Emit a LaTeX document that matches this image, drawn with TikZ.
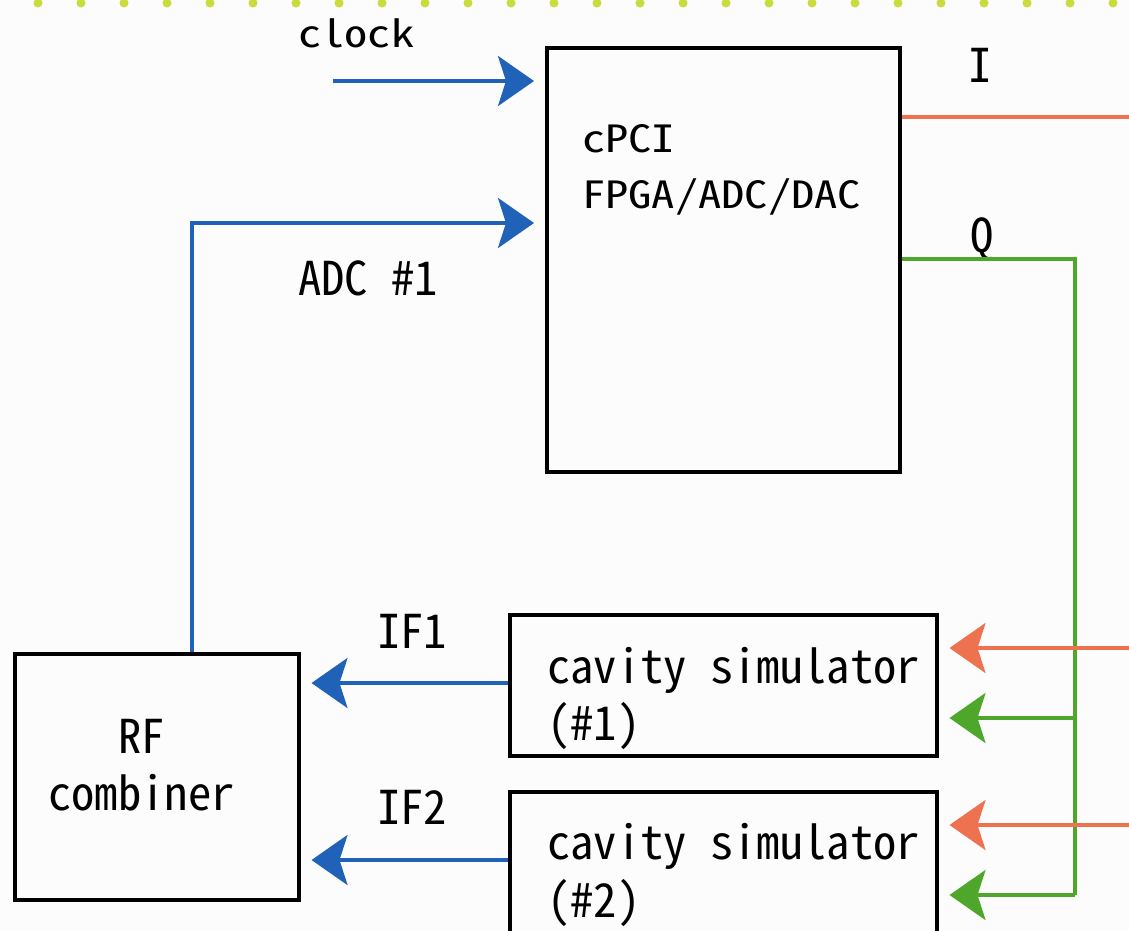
\documentclass[tikz,border=0pt]{standalone}
\usepackage{fontspec}
\usetikzlibrary{arrows.meta}
\newfontfamily\jpfont[RawFeature=+hwid]{Noto Sans CJK JP}
\newfontfamily\jpwide[RawFeature=+hwid,FakeStretch=1.24]{Noto Sans CJK JP}
\definecolor{cblue}{HTML}{1F62B8}
\definecolor{corange}{HTML}{EE7150}
\definecolor{cgreen}{HTML}{4EA72A}
\definecolor{cdot}{HTML}{C8DC3C}
\definecolor{cbg}{HTML}{FCFCFC}
\begin{document}
\begin{tikzpicture}[x=1pt,y=-1pt,
  box/.style={draw=black,line width=3.5pt,inner sep=0pt,anchor=north west},
  lbl/.style={anchor=base west,inner sep=0pt,font=\jpfont\fontsize{46.6}{56}\selectfont},
  wlbl/.style={anchor=base west,inner sep=0pt,font=\jpwide\fontsize{37.5}{56}\selectfont},
  sig/.style={line width=3.5pt},
  tipped/.style={sig,-{Stealth[length=36pt 0 0,width=50pt 0 0,inset=8pt]},shorten >=11pt}]
\useasboundingbox (0,0) rectangle (1129,930);
\fill[cbg] (0,0) rectangle (1129,930);
\foreach \k in {0,...,26} \fill[cdot] (-5+43*\k,3) circle (4.5);
% boxes
\node[box,minimum width=353pt,minimum height=424pt] (cpci) at (545,46) {};
\node[box,minimum width=284pt,minimum height=246pt] (rf) at (13,652) {};
\node[box,minimum width=427pt,minimum height=141pt] (sim1) at (508,613) {};
\node[box,minimum width=427pt,minimum height=160pt] (sim2) at (508,790) {};
% texts
\node[wlbl] (tclock) at (298,47) {clock};
\node[wlbl] (tcpci) at (582,152) {cPCI};
\node[wlbl] (tfpga) at (582,208) {FPGA/ADC/DAC};
\node[lbl] (tadc) at (298,295) {ADC \#1};
\node[lbl,anchor=base] (ti) at (980,82) {I};
\node[lbl,anchor=base] (tq) at (982,252) {Q};
\node[lbl] (tif1) at (377,648) {IF1};
\node[lbl] (tif2) at (377,824) {IF2};
\node[lbl] (trf) at (118,753) {RF};
\node[lbl] (tcomb) at (48,810) {combiner};
\node[lbl] (ts1a) at (547,683) {cavity simulator};
\node[lbl] (ts1b) at (547,740) {(\#1)};
\node[lbl] (ts2a) at (547,859) {cavity simulator};
\node[lbl] (ts2b) at (547,917) {(\#2)};
% coordinates
\coordinate (clk0) at (333,81);
\coordinate (adcx) at (192,652);
\coordinate (adcy) at (192,223);
\coordinate (iend) at (1129,117);
\coordinate (qbus) at (1075,259);
\coordinate (qbot) at (1075,895);
\coordinate (ia) at (1129,648);
\coordinate (ib) at (1129,825);
\coordinate (qa) at (1075,718);
% blue connectors
\draw[tipped,cblue] (clk0) -- (clk0 -| cpci.west);
\draw[tipped,cblue] (adcx) -- (adcy) -- (adcy -| cpci.west);
\draw[tipped,cblue] (sim1.west |- 0,683) -- (rf.east |- 0,683);
\draw[tipped,cblue] (sim2.west |- 0,860) -- (rf.east |- 0,860);
% I and Q
\draw[sig,corange] (cpci.east |- iend) -- (iend);
\draw[sig,cgreen] (cpci.east |- qbus) -- (qbus) -- (qbot);
\draw[tipped,corange] (ia) -- (ia -| sim1.east);
\draw[tipped,corange] (ib) -- (ib -| sim2.east);
\draw[tipped,cgreen] (qa) -- (qa -| sim1.east);
\draw[tipped,cgreen] (qbot) -- (qbot -| sim2.east);
\end{tikzpicture}
\end{document}
